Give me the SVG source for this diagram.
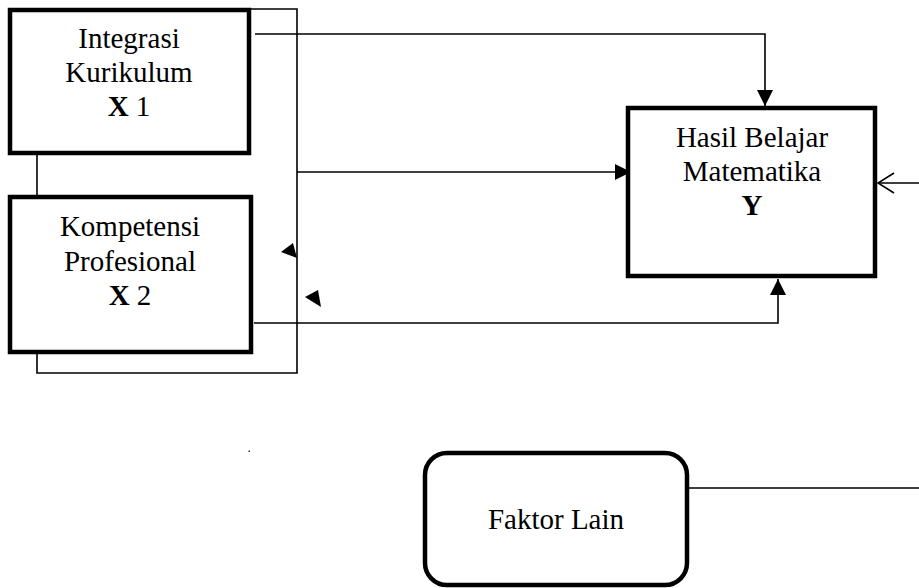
<svg xmlns="http://www.w3.org/2000/svg" width="919" height="588" viewBox="0 0 919 588">
<style>
.box{fill:#fff;stroke:#000;stroke-width:4.5}
.ln{fill:none;stroke:#000;stroke-width:1.6}
.t{font-family:"Liberation Serif","Times New Roman",serif;font-size:29px;fill:#000;text-anchor:middle}
.b{font-weight:bold}
</style>
<defs>
<marker id="ah" viewBox="0 0 16 16" refX="16" refY="8" markerWidth="16" markerHeight="16" markerUnits="userSpaceOnUse" orient="auto">
<path d="M0,0 L16,8 L0,16 Z" fill="#000"/>
</marker>
<marker id="oa" viewBox="0 0 18 22" refX="17" refY="11" markerWidth="18" markerHeight="22" markerUnits="userSpaceOnUse" orient="auto">
<path d="M1,1 L17,11 L1,21" fill="none" stroke="#000" stroke-width="1.6"/>
</marker>
</defs>
<rect width="919" height="588" fill="#fff"/>
<g id="connectors">
<path class="ln" d="M250,9 H297 V373 H37 V353"/>
<path class="ln" d="M37,154 V196"/>
<path class="ln" d="M255,34 H765 V106" marker-end="url(#ah)"/>
<path class="ln" d="M297,172 H631" marker-end="url(#ah)"/>
<path class="ln" d="M254,323 H778 V279" marker-end="url(#ah)"/>
<path class="ln" d="M919,183 H878" marker-end="url(#oa)"/>
<path class="ln" d="M689,488 H919"/>
<path d="M293,243 L281,252 L297,258 Z" fill="#000"/>
<path d="M318,290 L305,297 L321,307 Z" fill="#000"/>
<rect x="248.5" y="450.5" width="1.5" height="1.5" fill="#333"/>
</g>
<g id="x1">
<rect class="box" x="10" y="10" width="239" height="143"/>
<text class="t" x="129" y="48">Integrasi</text>
<text class="t" x="129" y="82">Kurikulum</text>
<text class="t" x="129" y="116"><tspan class="b">X</tspan> 1</text>
</g>
<g id="x2">
<rect class="box" x="10" y="197" width="241" height="155"/>
<text class="t" x="130" y="236">Kompetensi</text>
<text class="t" x="130" y="271">Profesional</text>
<text class="t" x="130" y="305"><tspan class="b">X</tspan> 2</text>
</g>
<g id="y">
<rect class="box" x="628" y="108" width="247" height="168"/>
<text class="t" x="752" y="147">Hasil Belajar</text>
<text class="t" x="752" y="181">Matematika</text>
<text class="t b" x="752" y="215">Y</text>
</g>
<g id="faktor">
<rect class="box" x="425" y="453" width="262" height="132" rx="22" ry="22"/>
<text class="t" x="556" y="529">Faktor Lain</text>
</g>
</svg>
